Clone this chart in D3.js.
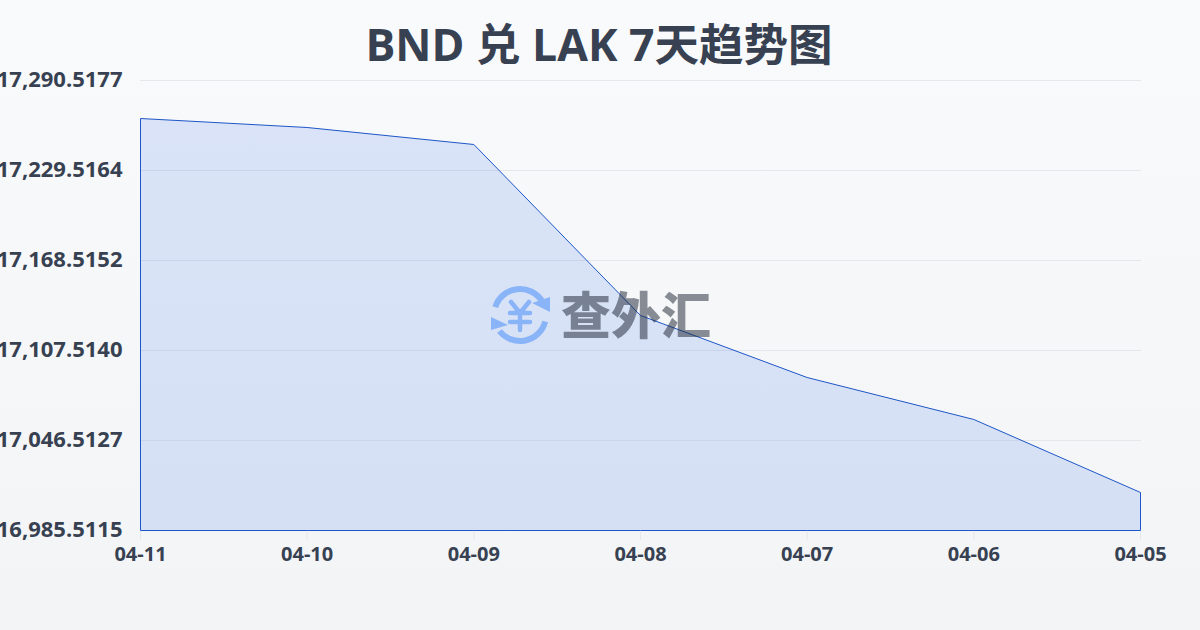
<!DOCTYPE html>
<html><head><meta charset="utf-8">
<script src="https://cdn.jsdelivr.net/npm/d3@7/dist/d3.min.js"></script>
<style>html,body{margin:0;padding:0;width:1200px;height:630px;overflow:hidden}
text{font-family:"Open Sans","Noto Sans CJK SC",sans-serif}</style></head>
<body><svg id="c" width="1200" height="630"></svg>
<script>
const categories=["04-11","04-10","04-09","04-08","04-07","04-06","04-05"];
const values=[17264.76,17258.66,17247.14,17131.24,17089.2,17060.75,17011.27];
const yTicks=[16985.5115,17046.5127,17107.5140,17168.5152,17229.5164,17290.5177];
const titleText="BND 兑 LAK 7天趋势图";
const watermarkText="查外汇";

const svg=d3.select("#c");
const defs=svg.append("defs");
const bg=defs.append("linearGradient").attr("id","bg").attr("x1",0).attr("y1",0).attr("x2",0).attr("y2",1);
bg.append("stop").attr("offset","0%").attr("stop-color","#f9fafb");
bg.append("stop").attr("offset","100%").attr("stop-color","#f3f4f6");
svg.append("rect").attr("width",1200).attr("height",630).attr("fill","url(#bg)");

const x=d3.scalePoint().domain(categories).range([140.5,1140.5]);
const y=d3.scaleLinear().domain([yTicks[0],yTicks[5]]).range([530.5,80.5]);

svg.append("g").selectAll("line").data(yTicks.slice(1)).join("line")
 .attr("x1",140).attr("x2",1141).attr("y1",d=>Math.round(y(d)-.5)+.5).attr("y2",d=>Math.round(y(d)-.5)+.5)
 .attr("stroke","#e5e7eb").attr("stroke-width",1);

const rows=categories.map((c,i)=>({c,v:values[i]}));
svg.append("path").datum(rows)
 .attr("d",d3.area().x(d=>x(d.c)).y0(y(yTicks[0])).y1(d=>y(d.v)))
 .attr("fill","#2563eb").attr("fill-opacity",.14)
 .attr("stroke","#1d56c8").attr("stroke-width",1);

svg.append("g").selectAll("line").data(categories).join("line")
 .attr("x1",d=>x(d)).attr("x2",d=>x(d)).attr("y1",531).attr("y2",540)
 .attr("stroke","#e5e7eb");

svg.append("g").selectAll("text").data(yTicks).join("text")
 .attr("x",122.5).attr("y",d=>y(d)-1.5).attr("dy","0.35em").attr("text-anchor","end")
 .attr("font-size",22).attr("font-weight",700).attr("fill","#374151")
 .text(d=>d3.format(",.4f")(d));
svg.append("g").selectAll("text").data(categories).join("text")
 .attr("x",d=>x(d)).attr("y",561).attr("text-anchor","middle")
 .attr("font-size",20).attr("font-weight",700).attr("fill","#374151").text(d=>d);

svg.append("text").attr("x",599).attr("y",61).attr("text-anchor","middle")
 .attr("font-size",44.5).attr("font-weight",700).attr("fill","#374151").text(titleText);

// watermark
const wm=svg.append("g");
const logo=wm.append("g").attr("transform","translate(520,315)").attr("fill","none").attr("stroke","#8ab4f8").attr("stroke-linecap","round");
logo.append("path").attr("d",d3.arc()({innerRadius:26,outerRadius:26,startAngle:-1.26,endAngle:1.04})).attr("stroke-width",6);
logo.append("path").attr("d",d3.arc()({innerRadius:26,outerRadius:26,startAngle:1.82,endAngle:4.05})).attr("stroke-width",6);
logo.append("path").attr("d","M30,-18L30,-3L12,-12Z").attr("fill","#8ab4f8").attr("stroke","none");
logo.append("path").attr("d","M-29,2L-29,15L-12,10Z").attr("fill","#8ab4f8").attr("stroke","none");
logo.append("path").attr("d","M-9,-13L0,-2L9,-13M-10,-2H10M-10,7H10M0,-2V15").attr("stroke-width",4.5).attr("stroke-linejoin","round");
wm.append("text").attr("x",636).attr("y",334).attr("text-anchor","middle")
 .attr("font-size",50).attr("font-weight",900).attr("fill","#1f2937").attr("fill-opacity",.52)
 .style("font-family",'"Noto Sans CJK SC"').text(watermarkText);
</script></body></html>
